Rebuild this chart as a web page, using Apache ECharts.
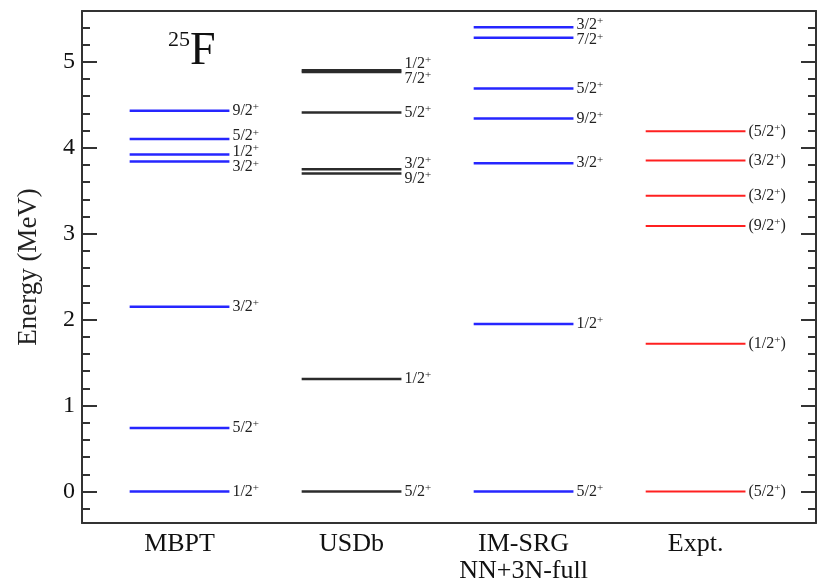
<!DOCTYPE html>
<html>
<head>
<meta charset="utf-8">
<script src="https://cdn.jsdelivr.net/npm/echarts@6/dist/echarts.min.js"></script>
<style>
  html, body { margin: 0; padding: 0; background: #fff; }
  #chart { width: 817px; height: 585px; }
</style>
</head>
<body>
<div id="chart"></div>
<script>
// Level scheme of 25F: calculated and measured excitation energies (MeV)
const columns = ['MBPT', 'USDb', 'IM-SRG\nNN+3N-full', 'Expt.'];
const columnColors = ['#2626ff', '#2b2b2b', '#2626ff', '#ff2020'];

const mbptEnergies = [0.00, 0.74, 2.15, 3.84, 3.92, 4.10, 4.43];
const mbptSpins    = ['1/2', '5/2', '3/2', '3/2', '1/2', '5/2', '9/2'];

const usdbEnergies = [0.00, 1.31, 3.70, 3.75, 4.41, 4.88, 4.90];
const usdbSpins    = ['5/2', '1/2', '9/2', '3/2', '5/2', '7/2', '1/2'];

const imsrgEnergies = [0.00, 1.95, 3.82, 4.34, 4.69, 5.28, 5.40];
const imsrgSpins    = ['5/2', '1/2', '3/2', '9/2', '5/2', '7/2', '3/2'];

const exptEnergies = [0.00, 1.72, 3.09, 3.44, 3.85, 4.19];
const exptSpins    = ['(5/2', '(1/2', '(9/2', '(3/2', '(3/2', '(5/2'];

const yTicks = [0, 1, 2, 3, 4, 5];

// Spread labels of nearly degenerate levels so they do not overlap
function spreadLabels(energies, minGap) {
  const order = energies.map((e, i) => i).sort((a, b) => energies[a] - energies[b]);
  let groups = [];
  order.forEach(i => {
    groups.push({ members: [i], mean: energies[i] });
    while (groups.length > 1) {
      const g2 = groups[groups.length - 1], g1 = groups[groups.length - 2];
      const top1 = g1.mean + (g1.members.length - 1) * minGap / 2;
      const bot2 = g2.mean - (g2.members.length - 1) * minGap / 2;
      if (bot2 - top1 < minGap) {
        const members = g1.members.concat(g2.members);
        const mean = members.reduce((s, k) => s + energies[k], 0) / members.length;
        groups.splice(groups.length - 2, 2, { members, mean });
      } else break;
    }
  });
  const pos = new Array(energies.length);
  groups.forEach(g => {
    const n = g.members.length;
    g.members.forEach((k, j) => { pos[k] = g.mean + (j - (n - 1) / 2) * minGap; });
  });
  return pos;
}

const sets = [
  [mbptEnergies, mbptSpins],
  [usdbEnergies, usdbSpins],
  [imsrgEnergies, imsrgSpins],
  [exptEnergies, exptSpins]
];

const levelData = [];
sets.forEach(([energies, spins], col) => {
  const labelPos = spreadLabels(energies, 0.18);
  energies.forEach((e, i) => {
    levelData.push([col + 1, e, labelPos[i], spins[i], col]);
  });
});

const HALF_WIDTH = 0.29; // half length of a level line in column units

function renderLevel(params, api) {
  const col = api.value(0);
  const e = api.value(1);
  const labelE = api.value(2);
  const spin = levelData[params.dataIndex][3];
  const ci = levelData[params.dataIndex][4];
  const left = api.coord([col - HALF_WIDTH, e]);
  const right = api.coord([col + HALF_WIDTH, e]);
  const lab = api.coord([col + HALF_WIDTH, labelE]);
  const closing = spin.charAt(0) === '(' ? '{n|)}' : '';
  return {
    type: 'group',
    children: [
      {
        type: 'line',
        shape: { x1: left[0], y1: left[1], x2: right[0], y2: right[1] },
        style: { stroke: columnColors[ci], lineWidth: ci === 3 ? 2 : 2.5 }
      },
      {
        type: 'text',
        style: {
          x: lab[0] + 3,
          y: lab[1],
          text: '{n|' + spin + '}{p|+}' + closing,
          align: 'left',
          verticalAlign: 'middle',
          rich: {
            n: { fontFamily: 'Liberation Serif', fontSize: 16, lineHeight: 18, fill: '#222' },
            p: { fontFamily: 'Liberation Serif', fontSize: 11, lineHeight: 11, verticalAlign: 'top', fill: '#222' }
          }
        }
      }
    ]
  };
}

const minorTicks = [];
for (let k = -1; k <= 27; k++) {
  const v = Math.round(k * 0.2 * 10) / 10;
  if (Math.abs(v - Math.round(v)) > 1e-6) minorTicks.push(v);
}

const axisLine = { show: true, onZero: false, lineStyle: { color: '#333', width: 2 } };
const serif = 'Liberation Serif';

const chart = echarts.init(document.getElementById('chart'), null, { renderer: 'canvas' });
chart.setOption({
  animation: false,
  backgroundColor: '#fff',
  title: {
    text: '{a|25}{b|F}',
    left: 163,
    top: 24,
    textStyle: {
      fontWeight: 'normal',
      rich: {
        a: { fontFamily: serif, fontSize: 22, fontWeight: 'normal', color: '#111', verticalAlign: 'top', lineHeight: 20 },
        b: { fontFamily: serif, fontSize: 46, fontWeight: 'normal', color: '#111', lineHeight: 46 }
      }
    }
  },
  grid: { left: 82, right: 1, top: 11, bottom: 57, containLabel: false },
  xAxis: [
    {
      type: 'value', position: 'bottom', min: 0.433, max: 4.70,
      axisLine, axisTick: { show: false }, splitLine: { show: false },
      axisLabel: {
        customValues: [1, 2, 3, 4],
        formatter: v => columns[Math.round(v) - 1],
        fontFamily: serif, fontSize: 26, color: '#111', lineHeight: 27,
        margin: 8, verticalAlign: 'top'
      }
    },
    {
      type: 'value', position: 'top', min: 0.433, max: 4.70,
      axisLine, axisTick: { show: false }, axisLabel: { show: false }, splitLine: { show: false }
    }
  ],
  yAxis: [
    {
      type: 'value', position: 'left', min: -0.365, max: 5.59,
      name: 'Energy (MeV)', nameLocation: 'middle', nameGap: 40, nameRotate: 90,
      nameTextStyle: { fontFamily: serif, fontSize: 27, color: '#222' },
      axisLine,
      axisTick: { show: true, inside: true, length: 15, customValues: yTicks, lineStyle: { color: '#333', width: 2 } },
      axisLabel: { customValues: yTicks, fontFamily: serif, fontSize: 24, color: '#111', margin: 7 },
      splitLine: { show: false }
    },
    {
      type: 'value', position: 'left', min: -0.365, max: 5.59,
      axisLine: { show: false, onZero: false },
      axisTick: { show: true, inside: true, length: 8, customValues: minorTicks, lineStyle: { color: '#333', width: 2 } },
      axisLabel: { show: false }, splitLine: { show: false }
    },
    {
      type: 'value', position: 'right', min: -0.365, max: 5.59,
      axisLine,
      axisTick: { show: true, inside: true, length: 15, customValues: yTicks, lineStyle: { color: '#333', width: 2 } },
      axisLabel: { show: false }, splitLine: { show: false }
    },
    {
      type: 'value', position: 'right', min: -0.365, max: 5.59,
      axisLine: { show: false, onZero: false },
      axisTick: { show: true, inside: true, length: 8, customValues: minorTicks, lineStyle: { color: '#333', width: 2 } },
      axisLabel: { show: false }, splitLine: { show: false }
    }
  ],
  series: [
    {
      type: 'custom',
      xAxisIndex: 0,
      yAxisIndex: 0,
      renderItem: renderLevel,
      data: levelData.map(d => [d[0], d[1], d[2]]),
      clip: false,
      silent: true
    }
  ]
});
</script>
</body>
</html>
